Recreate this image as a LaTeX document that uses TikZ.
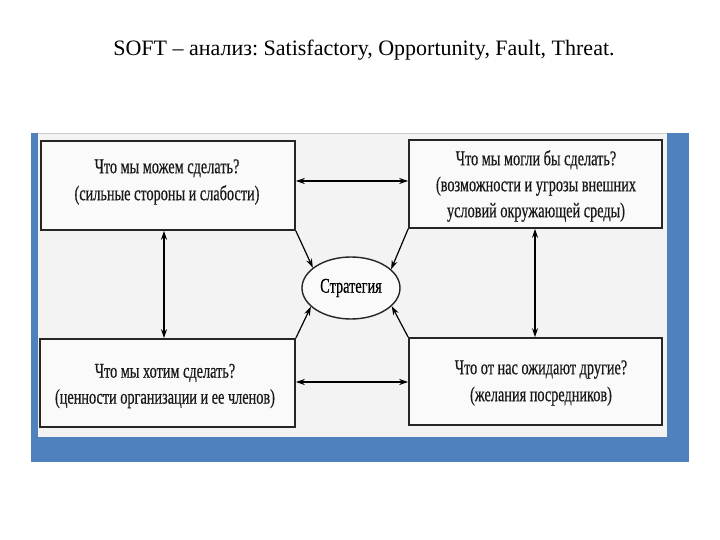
\documentclass[tikz,border=0pt]{standalone}
\usepackage{fontspec}
\setmainfont{Liberation Serif}
\newfontfamily\inkfont{Liberation Serif}[FakeBold=0.6]
\usetikzlibrary{shapes.geometric,arrows.meta}
\definecolor{slideblue}{HTML}{4F81BD}
\definecolor{paper}{HTML}{F3F3F3}
\newcommand{\narrowtext}[1]{\scalebox{0.68}[1]{#1}}
\frenchspacing
\begin{document}
\begin{tikzpicture}[x=1pt,y=-1pt,
  box/.style={draw=black!85,line width=1.6pt,fill=white!60!paper,inner sep=0pt},
  txt/.style={align=center,inner sep=0pt,text=black!90},
  arr/.style={line width=1.2pt,-{Stealth[length=9pt,width=6pt]}},
  darr/.style={line width=1.2pt,{Stealth[length=9pt,width=6pt]}-{Stealth[length=9pt,width=6pt]}}]
\useasboundingbox (0,0) rectangle (720,540);
\fill[white] (0,0) rectangle (720,540);
\fill[slideblue] (31,133) rectangle (689,462);
\fill[paper] (38,133) rectangle (667,437);
\draw[gray!40,line width=0.6pt] (38,133.5) -- (667,133.5);
% title
\node[font=\fontsize{22}{26}\selectfont,inner sep=0pt,anchor=base] (title) at (364,56) {SOFT – анализ: Satisfactory, Opportunity, Fault, Threat.};
% boxes
\node[box,minimum width=254,minimum height=89] (tl) at (168,185.5) {};
\node[box,minimum width=253,minimum height=88] (tr) at (535.5,184) {};
\node[box,minimum width=255,minimum height=88] (bl) at (167.5,383) {};
\node[box,minimum width=253,minimum height=87] (br) at (535.5,381.5) {};
% texts
\node[txt,font=\inkfont\fontsize{21}{27}\selectfont] (tlt) at (167,182) {\narrowtext{Что мы можем сделать?}\\\narrowtext{(сильные стороны и слабости)}};
\node[txt,font=\inkfont\fontsize{21}{26}\selectfont] (trt) at (536,186) {\narrowtext{Что мы могли бы сделать?}\\\narrowtext{(возможности и угрозы внешних}\\\narrowtext{условий окружающей среды)}};
\node[txt,font=\inkfont\fontsize{21}{26}\selectfont] (blt) at (165,386) {\narrowtext{Что мы хотим сделать?}\\\narrowtext{(ценности организации и ее членов)}};
\node[txt,font=\inkfont\fontsize{21}{27}\selectfont] (brt) at (541,383) {\narrowtext{Что от нас ожидают другие?}\\\narrowtext{(желания посредников)}};
% ellipse
\node[draw=black!85,ellipse,line width=1.4pt,minimum width=98,minimum height=62,inner sep=0pt,fill=white!60!paper,font=\inkfont\fontsize{21}{24}\selectfont] (str) at (351,288) {\narrowtext{Стратегия}};
% helper coordinates
\coordinate (xl) at (164,0);
\coordinate (xr) at (535,0);
\coordinate (yt) at (0,181);
\coordinate (yb) at (0,382);
% connectors
\draw[darr] (tl.east |- yt) -- (tr.west |- yt);
\draw[darr] (bl.east |- yb) -- (br.west |- yb);
\draw[darr] (tl.south -| xl) -- (bl.north -| xl);
\draw[darr] (tr.south -| xr) -- (br.north -| xr);
\draw[arr] (tl.south east) -- (str.152);
\draw[arr] (tr.south west) -- (str.25);
\draw[arr] (bl.north east) -- (str.205);
\draw[arr] (br.north west) -- (str.336);
\end{tikzpicture}
\end{document}
